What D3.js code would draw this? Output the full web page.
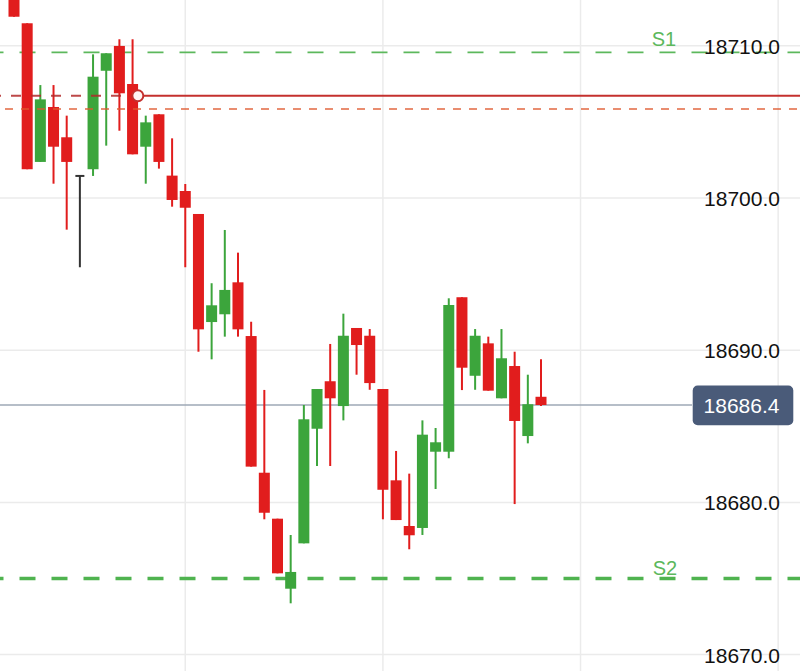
<!DOCTYPE html>
<html>
<head>
<meta charset="utf-8">
<script src="https://cdn.jsdelivr.net/npm/d3@7"></script>
<style>
  html, body { margin: 0; padding: 0; background: #fff; }
  svg { display: block; font-family: "Liberation Sans", Arial, Helvetica, sans-serif; }
</style>
</head>
<body>
<svg id="chart" width="800" height="671"></svg>
<script>
// ---- data ----
const opens  = [18714.0, 18711.48, 18702.37, 18705.98, 18703.99, 18701.45, 18701.89, 18708.36, 18709.99, 18707.49,
                18703.37, 18705.50, 18701.47, 18700.46, 18698.95, 18691.85, 18692.36, 18694.46, 18690.93, 18681.95,
                18678.93, 18674.33, 18677.31, 18684.84, 18687.96, 18686.33, 18691.46, 18690.95, 18687.45, 18681.45,
                18678.45, 18678.32, 18683.33, 18683.33, 18693.48, 18688.32, 18690.45, 18686.84, 18688.96, 18684.36,
                18686.94];
const highs  = [18715.0, 18711.48, 18707.42, 18707.42, 18705.41, 18701.45, 18709.44, 18709.51, 18710.43, 18710.43,
                18705.41, 18705.50, 18703.92, 18700.92, 18698.95, 18694.40, 18697.90, 18696.41, 18691.87, 18687.39,
                18678.93, 18677.86, 18686.40, 18687.45, 18690.41, 18692.40, 18691.46, 18691.39, 18687.45, 18683.38,
                18681.89, 18685.39, 18684.89, 18693.41, 18693.48, 18691.39, 18690.89, 18691.39, 18689.90, 18688.39,
                18689.40];
const lows   = [18711.91, 18701.89, 18702.37, 18700.94, 18697.92, 18695.45, 18701.45, 18703.44, 18704.42, 18702.87,
                18700.94, 18701.93, 18699.43, 18695.45, 18689.90, 18689.40, 18690.89, 18690.89, 18682.35, 18678.89,
                18675.34, 18673.37, 18677.31, 18682.39, 18682.39, 18685.39, 18688.39, 18687.40, 18678.89, 18678.84,
                18676.92, 18677.86, 18680.88, 18682.90, 18687.38, 18687.40, 18687.34, 18686.84, 18679.89, 18683.88,
                18686.33];
const closes = [18711.91, 18701.89, 18706.48, 18703.37, 18702.37, 18701.45, 18707.97, 18709.51, 18706.88, 18702.87,
                18704.97, 18702.37, 18699.87, 18699.36, 18691.37, 18692.95, 18693.96, 18691.37, 18682.35, 18679.32,
                18675.34, 18675.43, 18685.46, 18687.45, 18686.84, 18690.95, 18690.34, 18687.84, 18680.83, 18678.84,
                18677.84, 18684.45, 18683.95, 18692.97, 18688.85, 18690.95, 18687.34, 18689.47, 18685.35, 18686.45,
                18686.40];
const yTicks = [18670, 18680, 18690, 18700, 18710];
const timeGridIdx = [13, 28, 43, 58];
const levelS1 = 18709.57, levelS2 = 18675.0;
const labelS1 = "S1", labelS2 = "S2";
const entryLevel = 18706.72, entryIdx = 9.4;
const stopLevel = 18705.85;
const lastPrice = 18686.4;

// ---- scales ----
const W = 800, H = 671;
const svg = d3.select("#chart");
const x = d3.scaleLinear().domain([0, 40]).range([14, 541]);
const y = d3.scaleLinear().domain([18710, 18670]).range([45.8, 654.6]);
const bodyW = 11;

const candles = opens.map((o, i) => ({ i, o, h: highs[i], l: lows[i], c: closes[i] }));
const RED = "#e11d1d", GREEN = "#3ca53c", DOJI = "#333333";
const col = d => d.c > d.o ? GREEN : (d.c < d.o ? RED : DOJI);

// ---- grid ----
const grid = svg.append("g");
grid.selectAll("line.h").data(yTicks).join("line")
  .attr("x1", 0).attr("x2", W)
  .attr("y1", d => y(d)).attr("y2", d => y(d))
  .attr("stroke", "#ebebeb").attr("stroke-width", 1.5);
grid.selectAll("line.v").data(timeGridIdx).join("line")
  .attr("x1", d => x(d)).attr("x2", d => x(d))
  .attr("y1", 0).attr("y2", H)
  .attr("stroke", "#ebebeb").attr("stroke-width", 1.5);

// ---- last price line (under candles) ----
svg.append("line")
  .attr("x1", 0).attr("x2", 692).attr("y1", y(lastPrice)).attr("y2", y(lastPrice))
  .attr("stroke", "#9ea8b6").attr("stroke-width", 1.5);

// ---- support lines ----
svg.append("line")
  .attr("x1", 0).attr("x2", W).attr("y1", y(levelS1)).attr("y2", y(levelS1))
  .attr("stroke", "#5cb85c").attr("stroke-width", 1.8)
  .attr("stroke-dasharray", "16,16").attr("stroke-dashoffset", 12.5);
svg.append("line")
  .attr("x1", 0).attr("x2", W).attr("y1", y(levelS2)).attr("y2", y(levelS2))
  .attr("stroke", "#4fb34f").attr("stroke-width", 3.5)
  .attr("stroke-dasharray", "16,16").attr("stroke-dashoffset", 12.5);

// ---- candles ----
const cg = svg.append("g");
cg.selectAll("line.wick").data(candles).join("line")
  .attr("x1", d => x(d.i)).attr("x2", d => x(d.i))
  .attr("y1", d => y(d.h)).attr("y2", d => y(d.l))
  .attr("stroke", col).attr("stroke-width", 2);
cg.selectAll("rect.body").data(candles.filter(d => d.o !== d.c)).join("rect")
  .attr("x", d => x(d.i) - bodyW / 2)
  .attr("width", bodyW)
  .attr("y", d => y(Math.max(d.o, d.c)))
  .attr("height", d => Math.max(1, y(Math.min(d.o, d.c)) - y(Math.max(d.o, d.c))))
  .attr("fill", col);
cg.selectAll("line.doji").data(candles.filter(d => d.o === d.c)).join("line")
  .attr("x1", d => x(d.i) - 4.5).attr("x2", d => x(d.i) + 4.5)
  .attr("y1", d => y(d.o)).attr("y2", d => y(d.o))
  .attr("stroke", DOJI).attr("stroke-width", 2);

// ---- stop (orange dashed) ----
svg.append("line")
  .attr("x1", 0).attr("x2", W).attr("y1", y(stopLevel)).attr("y2", y(stopLevel))
  .attr("stroke", "#e0582e").attr("stroke-width", 1.5).attr("opacity", 0.9)
  .attr("stroke-dasharray", "8,8").attr("stroke-dashoffset", 11);

// ---- entry line ----
const ex = x(entryIdx);
svg.append("line")
  .attr("x1", 0).attr("x2", ex).attr("y1", y(entryLevel)).attr("y2", y(entryLevel))
  .attr("stroke", "#b22a2a").attr("stroke-width", 2).attr("opacity", 0.85)
  .attr("stroke-dasharray", "10,10").attr("stroke-dashoffset", 9);
svg.append("line")
  .attr("x1", ex).attr("x2", W).attr("y1", y(entryLevel)).attr("y2", y(entryLevel))
  .attr("stroke", "#c4302e").attr("stroke-width", 2);
svg.append("circle")
  .attr("cx", ex).attr("cy", y(entryLevel)).attr("r", 5.5)
  .attr("fill", "#fff5f5").attr("stroke", "#c4302e").attr("stroke-width", 2);

// ---- S labels ----
svg.append("text").attr("x", 664).attr("y", y(levelS1) - 6.5)
  .attr("text-anchor", "middle").attr("font-size", 20).attr("fill", "#5cb85c").text(labelS1);
svg.append("text").attr("x", 665).attr("y", y(levelS2) - 4)
  .attr("text-anchor", "middle").attr("font-size", 20).attr("fill", "#5cb85c").text(labelS2);

// ---- right axis ----
const axis = d3.axisRight(y).tickValues(yTicks).tickFormat(d3.format(".1f")).tickSize(0).tickPadding(0);
const ag = svg.append("g").attr("transform", "translate(780,0)").call(axis);
ag.select(".domain").remove();
ag.selectAll("text")
  .attr("text-anchor", "end").attr("x", 0).attr("dy", "0.36em")
  .attr("font-size", 21).attr("fill", "#111")
  .style("font-family", "'Liberation Sans', Arial, Helvetica, sans-serif");

// ---- last price label ----
const ly = y(lastPrice);
svg.append("rect").attr("x", 692.7).attr("y", ly - 19.5).attr("width", 100.6).attr("height", 39.7)
  .attr("rx", 5).attr("fill", "#4a5b79");
svg.append("text").attr("x", 741.5).attr("y", ly).attr("dy", "0.36em")
  .attr("text-anchor", "middle").attr("font-size", 21).attr("fill", "#fff")
  .text(d3.format(".1f")(lastPrice));
</script>
</body>
</html>
